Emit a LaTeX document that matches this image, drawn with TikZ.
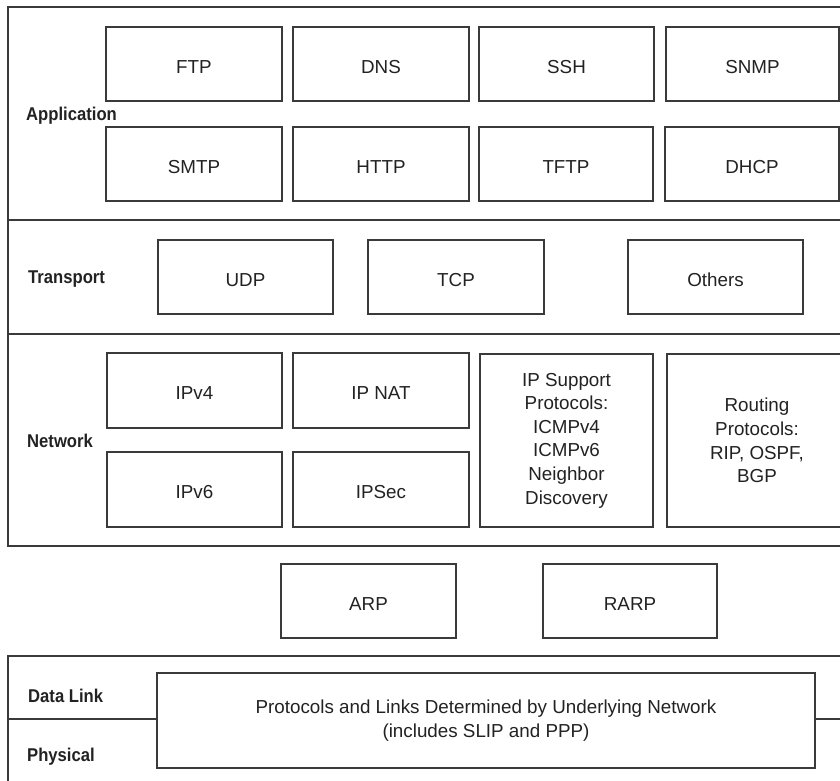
\documentclass[tikz,border=0pt]{standalone}
\usepackage{fontspec}
\setmainfont{Liberation Sans}
\newfontfamily\labelfam{Liberation Sans}[FakeStretch=0.9]
\definecolor{rule}{HTML}{3A3A3A}
\definecolor{ink}{HTML}{222222}
\begin{document}
\begin{tikzpicture}[x=1pt,y=-1pt,
  layerline/.style={draw=rule, line width=1.3pt},
  proto/.style={draw=rule, line width=1.2pt, fill=white, text=ink,
    anchor=north west, inner sep=0pt, outer sep=0pt, align=center,
    font=\fontsize{18.8}{23.6}\selectfont,
    % a tall invisible strut on the first line sets the text a little low in its box
    execute at begin node={\rule{0pt}{18.5pt}}},
  layername/.style={anchor=base west, inner sep=0pt, text=ink,
    font=\labelfam\bfseries\fontsize{18.5}{21}\selectfont}]
\useasboundingbox (0,0) rectangle (840,781);
\clip (0,0) rectangle (840,781);

% upper stack: application, transport, network
\draw[layerline] (850,7) -- (8,7) -- (8,546) -- (850,546);
\draw[layerline] (8,220) -- (850,220);
\draw[layerline] (8,334) -- (850,334);

% lower stack: data link and physical
\draw[layerline] (850,656) -- (8,656) -- (8,790);

% layer names
\node[layername] (app) at (26,120.7) {Application};
\node[layername] (trn) at (28,283.3) {Transport};
\node[layername] (net) at (27,447.3) {Network};
\node[layername] (dl)  at (28,702.3) {Data Link};
\node[layername] (phy) at (27,761.7) {Physical};

% application protocols
\node[proto, minimum width=176pt, minimum height=74pt] (ftp)  at (106,27) {FTP};
\node[proto, minimum width=176pt, minimum height=74pt] (dns)  at (293,27) {DNS};
\node[proto, minimum width=175pt, minimum height=74pt] (ssh)  at (479,27) {SSH};
\node[proto, minimum width=173pt, minimum height=74pt] (snmp) at (666,27) {SNMP};
\node[proto, minimum width=176pt, minimum height=74pt] (smtp) at (106,127) {SMTP};
\node[proto, minimum width=176pt, minimum height=74pt] (http) at (293,127) {HTTP};
\node[proto, minimum width=174pt, minimum height=74pt] (tftp) at (479,127) {TFTP};
\node[proto, minimum width=174pt, minimum height=74pt] (dhcp) at (665,127) {DHCP};

% transport protocols
\node[proto, minimum width=175pt, minimum height=74pt] (udp)    at (158,240) {UDP};
\node[proto, minimum width=176pt, minimum height=74pt] (tcp)    at (368,240) {TCP};
\node[proto, minimum width=175pt, minimum height=74pt] (others) at (628,240) {Others};

% network protocols
\node[proto, minimum width=175pt, minimum height=75pt] (ipv4)  at (107,353) {IPv4};
\node[proto, minimum width=176pt, minimum height=75pt] (ipnat) at (293,353) {IP NAT};
\node[proto, minimum width=175pt, minimum height=75pt] (ipv6)  at (107,452) {IPv6};
\node[proto, minimum width=176pt, minimum height=75pt] (ipsec) at (293,452) {IPSec};
\node[proto, minimum width=173pt, minimum height=173pt] (ipsup) at (480,354)
  {IP Support\\Protocols:\\ICMPv4\\ICMPv6\\Neighbor\\Discovery};
\node[proto, minimum width=180pt, minimum height=173pt] (routing) at (667,354)
  {Routing\\Protocols:\\RIP, OSPF,\\BGP};

% address resolution
\node[proto, minimum width=175pt, minimum height=74pt] (arp)  at (281,564) {ARP};
\node[proto, minimum width=174pt, minimum height=74pt] (rarp) at (543,564) {RARP};

% link layer box and the data link / physical divider
\node[proto, minimum width=658pt, minimum height=95pt] (link) at (157,673)
  {Protocols and Links Determined by Underlying Network\\(includes SLIP and PPP)};
\coordinate (divL) at (8,719);
\coordinate (divR) at (850,719);
\draw[layerline] (divL) -- (divL -| link.west);
\draw[layerline] (link.east |- divR) -- (divR);
\end{tikzpicture}
\end{document}
